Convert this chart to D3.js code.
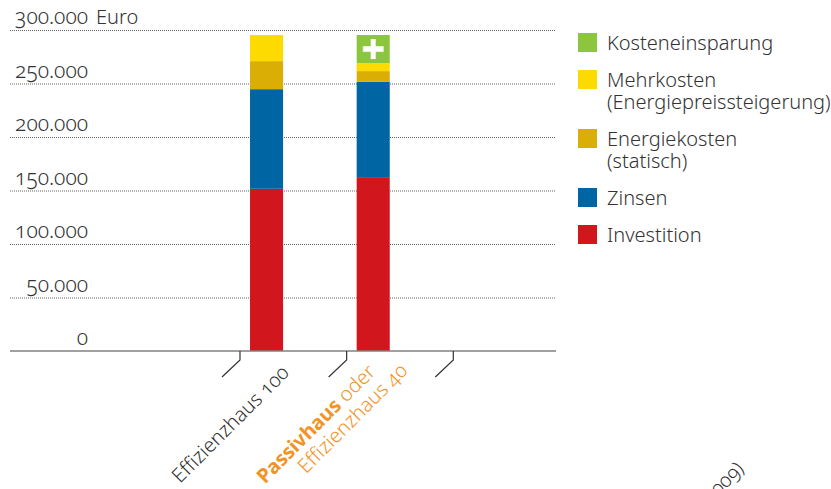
<!DOCTYPE html>
<html>
<head>
<meta charset="utf-8">
<script src="https://cdn.jsdelivr.net/npm/d3@7"></script>
<style>
body { margin: 0; background: #fff; }
svg text { font-family: "Noto Sans", "Open Sans", sans-serif; font-weight: 350; font-variant-numeric: oldstyle-nums; fill: #333; }
</style>
</head>
<body>
<div id="graph"></div>
<script>
// data (Euro)
var categories = ["Effizienzhaus 100", "Passivhaus oder Effizienzhaus 40"];
var investition = [151600, 162500];
var zinsen = [93100, 89000];
var energiekosten = [26200, 10100];
var mehrkosten = [24400, 7500];
var einsparung = [0, 26200];

var seriesKeys = ["investition", "zinsen", "energiekosten", "mehrkosten", "einsparung"];
var seriesColors = ["#d2161e", "#0066a3", "#dbae06", "#fedb00", "#8cc63e"];
var yTicks = [0, 50000, 100000, 150000, 200000, 250000, 300000];

var legendLabels = [
  ["Kosteneinsparung"],
  ["Mehrkosten", "(Energiepreissteigerung)"],
  ["Energiekosten", "(statisch)"],
  ["Zinsen"],
  ["Investition"]
];
var legendColors = ["#8cc63e", "#fedb00", "#dbae06", "#0066a3", "#d2161e"];

var svgWidth = 831, svgHeight = 489;
var svg = d3.select('#graph').append('svg').attr('width', svgWidth).attr('height', svgHeight);

var de = d3.formatLocale({decimal: ",", thousands: ".", grouping: [3], currency: ["", " €"]});
var fmt = de.format(",");

var x = d3.scaleBand().domain(categories).range([240, 453.3]);
var y = d3.scaleLinear().domain([0, 300000]).range([351, 30]);

var rows = categories.map(function(c, i) {
  return {cat: c, investition: investition[i], zinsen: zinsen[i], energiekosten: energiekosten[i],
          mehrkosten: mehrkosten[i], einsparung: einsparung[i]};
});
var stacked = d3.stack().keys(seriesKeys)(rows);

// gridlines
svg.append('g').selectAll('line').data(yTicks.filter(function(d) { return d > 0; }))
  .enter().append('line')
  .attr('x1', 10).attr('x2', 556)
  .attr('y1', function(d) { return y(d) + 0.5; }).attr('y2', function(d) { return y(d) + 0.5; })
  .attr('stroke', '#666').attr('stroke-width', 1).attr('stroke-dasharray', '1,1');

// y labels
svg.append('g').selectAll('text').data(yTicks)
  .enter().append('text')
  .attr('x', 88).attr('y', function(d) { return y(d) - 6; })
  .attr('text-anchor', 'end')
  .style('font-size', '21px')
  .text(function(d) { return fmt(d); });

svg.append('text').attr('x', 96).attr('y', y(300000) - 6)
  .style('font-size', '20px').text('Euro');

// bars
var bw = x.bandwidth();
svg.append('g').selectAll('g').data(stacked)
  .enter().append('g')
  .attr('fill', function(d, i) { return seriesColors[i]; })
  .selectAll('rect').data(function(d) { return d; })
  .enter().append('rect')
  .attr('x', function(d) { return x(d.data.cat) + bw * 0.094; })
  .attr('width', bw * 0.31)
  .attr('y', function(d) { return y(d[1]); })
  .attr('height', function(d) { return y(d[0]) - y(d[1]); });

// plus sign on the saving segment
var saving = stacked[4];
saving.forEach(function(d) {
  if (d[1] - d[0] <= 0) return;
  var cx = x(d.data.cat) + bw * 0.094 + bw * 0.155;
  var cy = (y(d[0]) + y(d[1])) / 2;
  var g = svg.append('g');
  g.append('rect').attr('x', cx - 10).attr('y', cy - 2.5).attr('width', 20).attr('height', 5)
    .attr('fill', '#fff').attr('stroke', '#e6f2d8').attr('stroke-width', 1);
  g.append('rect').attr('x', cx - 2.5).attr('y', cy - 10).attr('width', 5).attr('height', 20)
    .attr('fill', '#fff');
});

// x axis baseline
svg.append('line').attr('x1', 10).attr('x2', 556).attr('y1', 351).attr('y2', 351)
  .attr('stroke', '#808080').attr('stroke-width', 1.5);

// bent ticks at band edges
var tickX = categories.map(function(c) { return x(c); }).concat([x.range()[1]]);
svg.append('g').selectAll('path').data(tickX)
  .enter().append('path')
  .attr('d', function(d) { return 'M' + d + ',351V360L' + (d - 18) + ',377'; })
  .attr('fill', 'none').attr('stroke', '#333').attr('stroke-width', 1.2);

// category labels
var x0 = x(categories[0]);
svg.append('text')
  .attr('transform', 'translate(' + (x0 + bw * 0.47) + ',374) rotate(-45)')
  .attr('text-anchor', 'end').style('font-size', '20px')
  .text(categories[0]);

var x1 = x(categories[1]);
var l1 = svg.append('text')
  .attr('transform', 'translate(' + (x1 + bw * 0.28) + ',373) rotate(-45)')
  .attr('text-anchor', 'end').style('font-size', '20px');
l1.append('tspan').style('font-weight', 'bold').style('fill', '#f39325').text('Passivhaus');
l1.append('tspan').style('fill', '#f39325').text(' oder');
svg.append('text')
  .attr('transform', 'translate(' + (x1 + bw * 0.58) + ',372) rotate(-45)')
  .attr('text-anchor', 'end').style('font-size', '20px').style('fill', '#f39325')
  .text('Effizienzhaus 40');

svg.append('text')
  .attr('transform', 'translate(745,470) rotate(-45)')
  .attr('text-anchor', 'end').style('font-size', '20px')
  .text('(EnEV 2009)');

// legend
var ly = 33;
legendLabels.forEach(function(lines, i) {
  svg.append('rect').attr('x', 578).attr('y', ly).attr('width', 19).attr('height', 19)
    .attr('fill', legendColors[i]);
  var t = svg.append('text').attr('x', 607).attr('y', ly + 17).style('font-size', '20px');
  lines.forEach(function(s, j) {
    t.append('tspan').attr('x', 607).attr('dy', j === 0 ? 0 : 22).text(s);
  });
  ly += 37 + 22 * (lines.length - 1);
});
</script>
</body>
</html>
